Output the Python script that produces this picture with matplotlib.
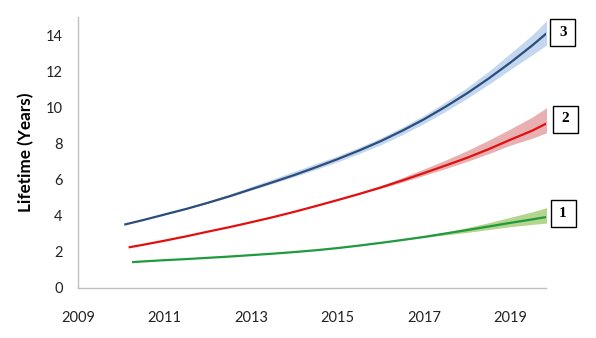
import matplotlib
matplotlib.use("Agg")
import matplotlib.pyplot as plt
from matplotlib.patches import Rectangle

# ---- data ----
half_years = [2010.5, 2011, 2011.5, 2012, 2012.5, 2013, 2013.5, 2014, 2014.5,
              2015, 2015.5, 2016, 2016.5, 2017, 2017.5, 2018, 2018.5, 2019,
              2019.5, 2019.85]

years_3 = [2010.07] + half_years
mean_3 = [3.49, 3.74, 4.05, 4.36, 4.70, 5.06, 5.45, 5.84, 6.24, 6.67,
          7.12, 7.60, 8.12, 8.70, 9.33, 10.03, 10.78, 11.60, 12.48, 13.42, 14.13]
low_3 = [3.49, 3.74, 4.04, 4.35, 4.67, 5.02, 5.40, 5.77, 6.15, 6.55,
         6.97, 7.43, 7.92, 8.48, 9.10, 9.77, 10.50, 11.28, 12.10, 12.90, 13.48]
high_3 = [3.49, 3.75, 4.08, 4.40, 4.78, 5.18, 5.60, 6.02, 6.45, 6.88,
          7.30, 7.78, 8.30, 8.90, 9.55, 10.30, 11.10, 12.00, 13.00, 14.00, 14.85]

years_2 = [2010.17] + half_years
mean_2 = [2.23, 2.37, 2.60, 2.84, 3.10, 3.35, 3.62, 3.90, 4.20, 4.52,
          4.85, 5.19, 5.55, 5.94, 6.35, 6.77, 7.20, 7.68, 8.20, 8.70, 9.12]
low_2 = [2.23, 2.37, 2.60, 2.84, 3.10, 3.35, 3.62, 3.90, 4.20, 4.52,
         4.85, 5.18, 5.50, 5.85, 6.22, 6.60, 7.00, 7.43, 7.90, 8.28, 8.60]
high_2 = [2.23, 2.37, 2.60, 2.84, 3.10, 3.35, 3.62, 3.90, 4.20, 4.52,
          4.87, 5.24, 5.65, 6.10, 6.58, 7.07, 7.60, 8.18, 8.80, 9.45, 10.00]

years_1 = [2010.25] + half_years
mean_1 = [1.41, 1.45, 1.52, 1.58, 1.65, 1.72, 1.80, 1.88, 1.97, 2.07,
          2.19, 2.33, 2.48, 2.64, 2.81, 3.00, 3.19, 3.39, 3.59, 3.78, 3.92]
low_1 = [1.41, 1.45, 1.52, 1.58, 1.65, 1.72, 1.80, 1.88, 1.97, 2.07,
         2.19, 2.33, 2.48, 2.63, 2.78, 2.92, 3.06, 3.22, 3.38, 3.50, 3.58]
high_1 = [1.41, 1.45, 1.52, 1.58, 1.65, 1.72, 1.81, 1.90, 1.99, 2.09,
          2.21, 2.35, 2.51, 2.68, 2.87, 3.08, 3.33, 3.60, 3.90, 4.20, 4.44]

series_labels = ["1", "2", "3"]
x_ticks = [2009, 2011, 2013, 2015, 2017, 2019]
y_ticks = [0, 2, 4, 6, 8, 10, 12, 14]
y_label = "Lifetime (Years)"

# ---- figure ----
W, H = 596, 338
fig = plt.figure(figsize=(W / 100, H / 100), dpi=100)
ax = fig.add_axes([78 / W, 1 - 287.6 / H, (546 - 78) / W, (287.6 - 17) / H])

series = [
    (years_1, mean_1, low_1, high_1, "#1f9a3e", "#b5d48e"),
    (years_2, mean_2, low_2, high_2, "#e01010", "#e8b0b0"),
    (years_3, mean_3, low_3, high_3, "#2c4d7c", "#c3d7ef"),
]
for xs, m, lo, hi, lc, fc in series:
    ax.fill_between(xs, lo, hi, color=fc, linewidth=0, zorder=1)
    ax.plot(xs, m, color=lc, linewidth=1.6, zorder=2, solid_capstyle="butt",
            solid_joinstyle="round")

ax.set_xlim(2009, 2019.82)
ax.set_ylim(0, 15)
ax.set_xticks(x_ticks)
ax.set_yticks(y_ticks)
ax.set_xticklabels([str(t) for t in x_ticks])
ax.set_yticklabels([str(t) for t in y_ticks])

for s in ["top", "right"]:
    ax.spines[s].set_visible(False)
for s in ["left", "bottom"]:
    ax.spines[s].set_color("#c0c0c0")
    ax.spines[s].set_linewidth(1.0)

ax.tick_params(axis="both", length=0, labelsize=10.5, labelcolor="#222222")
ax.tick_params(axis="y", pad=11)
ax.tick_params(axis="x", pad=17)
for lab in ax.get_xticklabels() + ax.get_yticklabels():
    lab.set_family("Lato")

ax.set_ylabel(y_label, fontsize=12.3, fontweight="bold", family="Lato", labelpad=8)

# ---- boxed series numbers to the right ----
box_centers = {"3": (562.7, 32.0), "2": (565.0, 119.0), "1": (563.0, 213.3)}
bw, bh = 25, 27
for lab in series_labels:
    cx, cy = box_centers[lab]
    rect = Rectangle(((cx - bw / 2) / W, 1 - (cy + bh / 2) / H), bw / W, bh / H,
                     transform=fig.transFigure, facecolor="white",
                     edgecolor="black", linewidth=1.0)
    fig.add_artist(rect)
    fig.text(cx / W, 1 - cy / H, lab, ha="center", va="center",
             fontsize=11, fontweight="bold", family="Liberation Serif")

fig.savefig("out.png", dpi=100)
